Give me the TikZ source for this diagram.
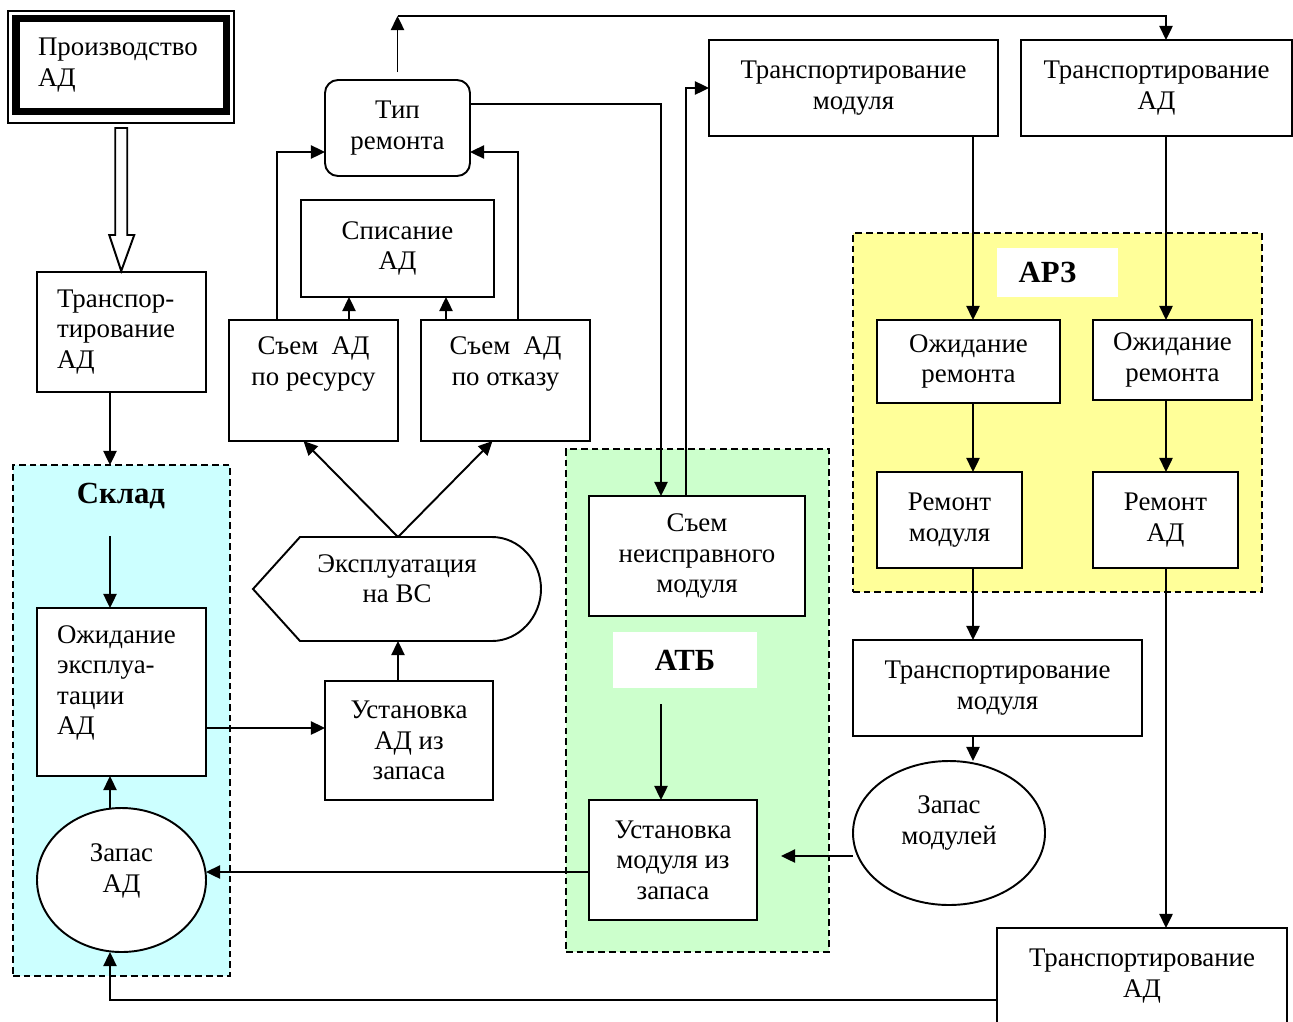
\documentclass[tikz,border=0pt]{standalone}
\usepackage{fontspec}
\setmainfont{Liberation Serif}
\usetikzlibrary{arrows.meta,shapes.geometric}
\definecolor{skladcol}{HTML}{CCFFFF}
\definecolor{atbcol}{HTML}{CCFFCC}
\definecolor{arzcol}{HTML}{FFFF99}
\tikzset{
  box/.style 2 args={draw, fill=white, align=center, inner sep=0pt, outer sep=0pt,
    minimum width=#1*0.02cm, minimum height=#2*0.02cm},
  oval/.style 2 args={draw, fill=white, ellipse, align=center, inner sep=0pt, outer sep=0pt,
    minimum width=#1*0.02cm, minimum height=#2*0.02cm},
  zone/.style 2 args={draw, line width=0.8pt, dash pattern=on 3.8pt off 2.3pt,
    inner sep=0pt, outer sep=0pt, minimum width=#1*0.02cm, minimum height=#2*0.02cm},
  lbl/.style={font=\fontsize{17.5}{20}\selectfont\bfseries, inner sep=0pt},
  arr/.style={-{Triangle[length=8pt,width=7.5pt]}}
}

\begin{document}
\begin{tikzpicture}[x=0.02cm, y=-0.02cm,
  font=\fontsize{15.3}{17.3}\selectfont, line width=1.1pt]

  \path[use as bounding box, fill=white] (0,0) rectangle (1293,1021);

  % zones
  \node[zone={217}{511}, fill=skladcol] (sklad) at (121.5,720.5) {};
  \node[zone={263}{503}, fill=atbcol] (atb) at (697.5,700.5) {};
  \node[zone={409}{359}, fill=arzcol] (arz) at (1057.5,412.5) {};
  \node[lbl] (skladLbl) at (121,496) {Склад};
  \node[lbl, fill=white, minimum width=144*0.02cm, minimum height=56*0.02cm] (atbLbl) at (685,660) {АТБ};
  \node[lbl, fill=white, minimum width=121*0.02cm, minimum height=49*0.02cm] (arzLbl) at (1057.5,272.5) {АРЗ\kern0.4cm};

  % helper columns and rows
  \coordinate (colS) at (110,0);
  \coordinate (colE) at (398,0);
  \coordinate (colN) at (661,0);
  \coordinate (colM) at (973,0);
  \coordinate (colR) at (1166,0);
  \coordinate (rowTop) at (0,16);
  \coordinate (rowU) at (0,728);
  \coordinate (rowZ) at (0,856);
  \coordinate (rowA) at (0,872);
  \coordinate (rowB) at (0,1000);
  \coordinate (skladIn) at (110,536);
  \coordinate (atbOut) at (661,704);
  \coordinate (modIn) at (781,856);

  % left column
  \node[box={210.5}{93}, line width=4pt, align=left, inner xsep=0.44cm, text width=3.33cm] (prod) at (121.25,65) {Производство\\АД};
  \draw[line width=0.6pt] ([shift={(-8,-7.5)}]prod.north west) rectangle ([shift={(7.5,11.5)}]prod.south east);
  \node[box={169}{120}, align=left, inner xsep=0.4cm, text width=2.58cm] (trans1) at (121.5,332) {Транспор-\\тирование\\АД};
  \node[box={169}{168}] (ozhE) at (121.5,692) {};
  \node[align=left, text width=2.58cm, inner sep=0pt] (ozhETxt) at (121.5,683) {Ожидание\\эксплуа-\\тации\\АД};
  \node[oval={169}{144}] (zapasAD) at (121.5,880) {};
  \node[align=center] (zapasADTxt) at (121.5,871) {Запас\\АД};

  % exploitation
  \node[box={168}{119}] (ustAD) at (409,740.5) {Установка\\АД из\\запаса};
  \node[box={288}{104}, draw=none, fill=none] (ekspl) at (397,589) {};
  \draw (ekspl.west) -- ([shift={(47,0)}]ekspl.north west) -- ([shift={(-49,0)}]ekspl.north east)
    .. controls ([shift={(-22,0)}]ekspl.north east) and ([shift={(0,-28)}]ekspl.east) .. (ekspl.east)
    .. controls ([shift={(0,28)}]ekspl.east) and ([shift={(-22,0)}]ekspl.south east) .. ([shift={(-49,0)}]ekspl.south east)
    -- ([shift={(47,0)}]ekspl.south west) -- cycle;
  \node[align=center] (eksplTxt) at (397,579) {Эксплуатация\\на ВС};
  \node[box={169}{121}] (semRes) at (313.5,380.5) {};
  \node[align=center] (semResTxt) at (313.5,364) {Съем~~АД\\по ресурсу};
  \node[box={169}{121}] (semOtk) at (505.5,380.5) {};
  \node[align=center] (semOtkTxt) at (505.5,364) {Съем~~АД\\по отказу};
  \node[box={193}{97}] (spis) at (397.5,248.5) {Списание\\АД};
  \node[box={145}{96}, rounded corners=0.26cm] (tip) at (397.5,128) {Тип\\ремонта};

  % ATB
  \node[box={216}{120}] (semNeispr) at (697,556) {Съем\\неисправного\\модуля};
  \node[box={168}{120}] (ustMod) at (673,860) {Установка\\модуля из\\запаса};

  % right part
  \node[box={289}{96}] (transMod1) at (853.5,88) {Транспортирование\\модуля};
  \node[box={271}{96}] (transAD1) at (1156.5,88) {Транспортирование\\АД};
  \node[box={183}{83}] (ozh1) at (968.5,361.5) {Ожидание\\ремонта};
  \node[box={159}{80}] (ozh2) at (1172.5,360) {Ожидание\\ремонта};
  \node[box={145}{96}] (remMod) at (949.5,520) {Ремонт\\модуля};
  \node[box={145}{96}] (remAD) at (1165.5,520) {Ремонт\\АД};
  \node[box={289}{96}] (transMod2) at (997.5,688) {Транспортирование\\модуля};
  \node[oval={192}{144}] (zapasMod) at (949,833) {};
  \node[align=center] (zapasModTxt) at (949,823) {Запас\\модулей};
  \node[box={290}{96}] (transAD2) at (1142,976) {Транспортирование\\АД};

  % hollow arrow
  \draw[fill=white] ([shift={(-6,16.5)}]prod.south) -- ++(0,107) -- ++(-6,0) -- ++(12,36)
    -- ++(13,-36) -- ++(-7,0) -- ++(0,-107) -- cycle;

  % connectors
  \draw[arr] (trans1.south -| colS) -- (sklad.north -| colS);
  \draw[arr] (skladIn) -- (ozhE.north -| colS);
  \draw[arr] (zapasAD.north -| colS) -- (ozhE.south -| colS);
  \draw[arr] (ozhE.east |- rowU) -- (ustAD.west |- rowU);
  \draw[arr] (ustAD.north -| colE) -- (ekspl.south -| colE);
  \draw[arr] (ekspl.north -| colE) -- ([shift={(-10,0)}]semRes.south);
  \draw[arr] (ekspl.north -| colE) -- ([shift={(-13,0)}]semOtk.south);
  \draw[arr] (semRes.north -| 349,0) -- (spis.south -| 349,0);
  \draw[arr] (semOtk.north -| 446,0) -- (spis.south -| 446,0);
  \draw[arr] (semRes.north -| 277,0) |- ([shift={(0,24)}]tip.west);
  \draw[arr] (semOtk.north -| 518,0) |- ([shift={(0,24)}]tip.east);
  \draw[arr] ([shift={(0,-8)}]tip.north) -- (tip.north |- rowTop);
  \draw[arr] (tip.north |- rowTop) -| (transAD1.north -| colR);
  \draw[arr] ([shift={(0,-24)}]tip.east) -| (semNeispr.north -| colN);
  \draw[arr] (semNeispr.north -| 686,0) |- (transMod1.west);
  \draw[arr] (atbOut) -- (ustMod.north -| colN);
  \draw[arr] (ustMod.west |- rowA) -- (zapasAD.east |- rowA);
  \draw[arr] (zapasMod.west |- rowZ) -- (modIn);
  \draw[arr] (transMod1.south -| colM) -- (ozh1.north -| colM);
  \draw[arr] (ozh1.south -| colM) -- (remMod.north -| colM);
  \draw[arr] (remMod.south -| colM) -- (transMod2.north -| colM);
  \draw[arr] (transMod2.south -| colM) -- (zapasMod.north -| colM);
  \draw[arr] (transAD1.south -| colR) -- (ozh2.north -| colR);
  \draw[arr] (ozh2.south -| colR) -- (remAD.north -| colR);
  \draw[arr] (remAD.south -| colR) -- (transAD2.north -| colR);
  \draw[arr] (transAD2.west |- rowB) -| (zapasAD.south -| colS);
\end{tikzpicture}
\end{document}
